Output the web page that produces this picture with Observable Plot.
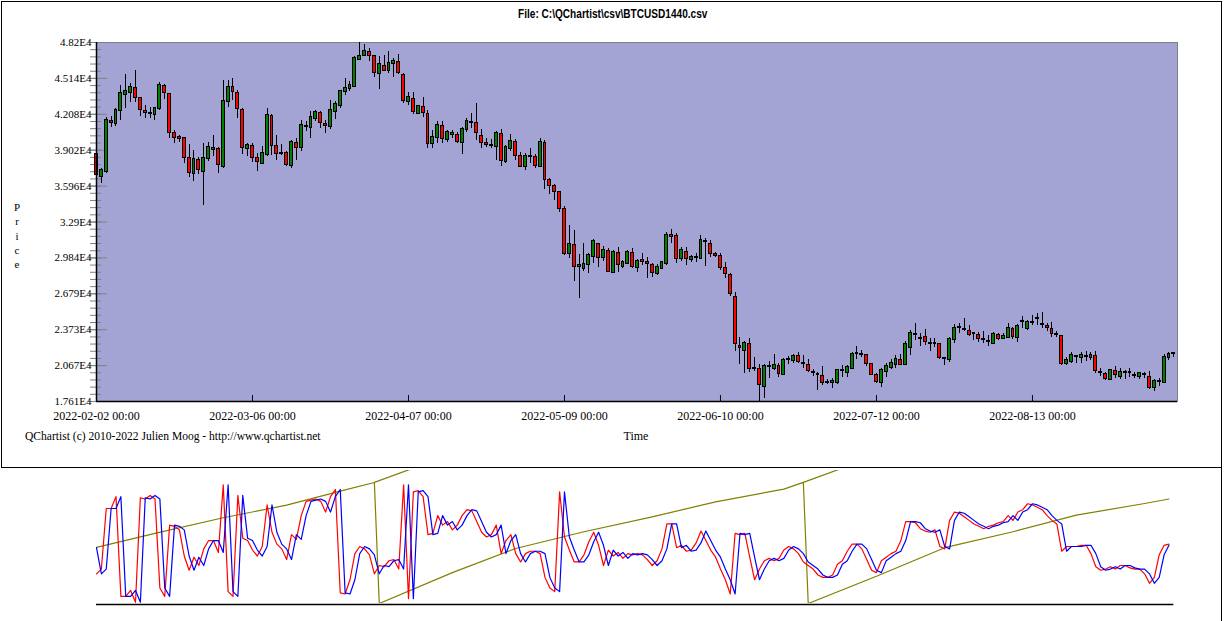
<!DOCTYPE html>
<html><head><meta charset="utf-8">
<script src="https://cdn.jsdelivr.net/npm/d3@7"></script>
<script src="https://cdn.jsdelivr.net/npm/@observablehq/plot@0.6"></script>
<style>
html,body{margin:0;padding:0;background:#fff;}
#page{position:relative;width:1225px;height:621px;overflow:hidden;background:#fff;}
#frame{position:absolute;left:1px;top:1px;width:1219px;height:465px;border:1px solid #000;pointer-events:none;}
#rline{position:absolute;left:1221px;top:467px;width:0;height:154px;border-left:1px solid #000;}
#main{position:absolute;left:0;top:0;}
#ind{position:absolute;left:0;top:470px;}
.t{position:absolute;font-family:"Liberation Serif","Times New Roman",serif;font-size:12px;color:#000;white-space:nowrap;line-height:14px;}
#titlewrap{position:absolute;left:0;width:1225px;top:4px;text-align:center;}
#title{position:relative;display:inline-block;font-family:"Liberation Sans",Arial,sans-serif;font-weight:bold;font-size:12px;line-height:14px;transform:scaleX(0.84);transform-origin:center;white-space:nowrap;}
#price{left:12px;top:200px;width:10px;text-align:center;font-size:11px;line-height:14.3px;}
#time{left:600px;width:72px;text-align:center;top:429px;}
#copy{left:25px;top:429px;font-size:11.55px;}
</style></head>
<body>
<div id="page">
  <div id="main"></div>
  <div id="ind"></div>
  <div id="frame"></div>
  <div id="rline"></div>
  <div id="titlewrap"><span id="title"></span></div>
  <div class="t" id="price"></div>
  <div class="t" id="time"></div>
  <div class="t" id="copy"></div>
</div>
<script>
// ---------------- data ----------------
const titleText = "File: C:\\QChartist\\csv\\BTCUSD1440.csv";
const yLabelText = "Price";
const xLabelText = "Time";
const copyText = "QChartist (c) 2010-2022 Julien Moog - http://www.qchartist.net";
const startDate = "2022-02-02";

const open = [38660,36810,37230,41470,41320,42410,43800,43970,44260,43400,42300,42160,42040,42550,44450,43740,40420,40110,39990,38290,37010,38120,37230,38290,39080,39060,37660,43150,44340,43830,42410,39140,39340,38320,37890,38660,41870,39310,38760,38740,37750,39570,39230,41020,40930,41720,42150,41180,41020,42350,42860,44000,44280,44480,46780,47120,47350,46980,45530,46130,45840,46390,46500,45360,43150,43340,42180,42640,42040,39570,40080,41020,39910,40400,40250,39650,40760,41400,41270,40220,39560,39430,39360,40340,38090,39190,39650,38490,37660,38480,38380,37660,39570,36420,35930,35390,33950,30200,30880,29080,28970,29260,29970,30960,29850,30390,28630,30200,29110,29390,30200,29050,29600,29420,29200,28540,28970,29390,31720,31670,29770,30310,29680,29910,29820,31260,30990,30110,29970,28920,28350,26450,22300,21960,22470,20420,20310,18910,20580,20450,20590,19910,21170,21100,21440,20890,20680,20120,19920,19740,19270,19260,19260,20240,20110,20450,21720,21620,21530,20760,19830,19260,20190,20530,20760,21080,20740,22240,23300,22990,23040,22580,22530,22440,21250,21190,22890,23900,23730,23550,23380,23210,22880,22750,22580,23230,22950,23090,23720,23090,24440,23860,24360,24680,24180,23980,23750,23340,23150,20820,21020,21480,21330,21450,21330,21440,20120,19910,19480,20170,19770,20100,20060,19830,19770,19900,19680,18780,19320,19260,21330,21670];
const high = [38850,37460,41840,41900,42600,44540,45470,44730,45810,43540,42830,42690,42690,44770,44600,43880,40700,40280,40130,39480,39000,38430,39570,39710,40280,39280,44960,44960,45110,44110,42550,39570,39570,38740,39310,42580,42070,40250,39510,38890,39880,40020,41580,41470,42300,42430,42300,41580,43280,43150,44140,45130,44900,46980,48200,48030,47690,47120,46980,47120,47410,46840,47180,45560,43940,43910,42830,43490,42410,40700,41470,41470,40700,40700,40560,40980,41700,42130,42980,40760,39990,39910,40620,40760,39420,40340,39910,38850,38720,39140,38630,39990,39850,36590,36100,35500,34230,32610,32180,30140,31050,30200,31410,31100,30820,30620,30480,30760,29620,30480,30670,29710,30200,29910,29390,29260,29540,31990,32270,31900,30710,30710,30050,30200,31760,31520,31330,30330,30250,29430,28490,26870,23090,22720,22950,21390,20740,20740,21020,21590,20820,21250,21440,21610,21760,21530,21160,20310,20110,20590,19460,19540,20310,20680,20680,21810,22300,21960,21610,20870,19990,20400,20820,21160,21530,21610,22720,23660,24230,23380,23720,22950,22950,22580,21300,23090,24170,24280,24660,24090,23520,23460,23600,23230,23460,23380,23380,24230,23890,24170,24850,24510,24940,25080,25220,24280,24370,23570,23230,21330,21760,21530,21810,21870,21760,21870,20400,20110,20310,20590,20400,20250,20400,20110,20020,20110,20170,19480,19540,21610,21760,21730];
const low = [36640,36210,37040,40980,41040,41550,42600,43110,43110,41900,41720,41700,41550,42410,43320,40050,39570,39650,37920,36720,36380,36950,34310,38060,38510,37010,37440,42690,43260,41750,38630,38490,38000,37180,37810,38460,38600,38170,38550,37610,37460,38170,38890,40620,40020,41440,40870,40450,40810,41670,42580,43670,44050,44340,46690,46980,46610,45190,44220,45760,45560,45190,45470,43000,42860,42090,42070,41840,39190,39190,39570,39570,39710,39990,39570,38630,40560,40850,39850,39140,39280,39140,38150,37660,37920,38910,38150,37520,37290,37860,37440,37570,35680,35220,34740,33740,30050,29770,27860,26400,28710,28540,29390,29050,29570,28630,28540,28630,28970,29260,28920,28630,29200,28070,28200,28350,28830,29200,31100,29390,29570,29200,29430,29480,29770,29110,29850,29910,28770,28070,26560,21900,20760,20020,20110,20190,17610,17890,19600,20250,19680,19830,20740,20870,20870,20450,20110,19770,18550,18970,19060,18740,19060,19680,19680,20400,21160,21330,20590,19830,19120,18830,19630,20310,20450,20680,20680,21530,22810,22320,22380,21900,22240,21160,20680,20960,22580,23430,23570,23150,22810,22660,22580,22320,22530,22810,22870,23040,22870,22660,23860,23660,24090,24090,23810,23600,23090,23090,20680,20680,20820,20820,20820,21020,21100,20020,19740,19400,19460,19540,19460,19480,19680,19540,19480,19540,18610,18490,18890,19170,21100,21390];
const close = [36950,37290,41550,41420,42410,43830,44030,44370,43540,42470,42260,42120,42550,44510,43910,40560,40080,39990,38430,37100,38210,37350,38290,39230,39130,37810,43150,44390,44030,42550,39230,39420,38430,38040,38740,41960,39450,38740,38720,37810,39650,39280,41100,41040,41780,42240,41360,41160,42380,42920,44050,44280,44510,46840,46980,47410,47120,45620,46330,45840,46410,46610,45620,43230,43490,42280,42750,42260,39570,40080,41100,39990,40510,40420,39760,40760,41440,41380,40560,39710,39530,39420,40420,38150,39230,39760,38570,37660,38490,38470,37720,39650,36530,36020,35530,34080,30250,30960,29110,29200,29260,30020,31240,29910,30480,28710,30280,29280,29430,30280,29140,29570,29560,29400,28630,29000,29430,31760,31700,29820,30480,29770,29910,29890,31330,31240,30250,30090,29050,28490,26790,22530,22240,22530,20450,20390,19030,20590,20570,20680,20020,21100,21160,21470,21020,20870,20250,20100,19900,19260,19250,19280,20250,20220,20530,21610,21730,21610,20870,19910,19310,20250,20590,20820,21160,20790,22440,23380,23290,23010,22750,22570,22520,21390,21240,22920,23810,23940,23720,23320,23370,23000,22870,22760,23290,23000,23150,23810,23170,24000,24420,24370,24370,24660,24170,23940,23380,23320,20870,21100,21530,21470,21530,21430,21530,20250,20100,19600,20250,19890,20110,20110,20050,19820,19970,19910,18830,19310,19340,21330,21590,21680];

const yTicks = [17610,20669,23728,26787,29846,32905,35964,39023,42082,45141,48200];
const yTickLabels = ["1.761E4","2.067E4","2.373E4","2.679E4","2.984E4","3.29E4","3.596E4","3.902E4","4.208E4","4.514E4","4.82E4"];
const xTickDays = ["2022-02-02","2022-03-06","2022-04-07","2022-05-09","2022-06-10","2022-07-12","2022-08-13"];
const xTickLabels = ["2022-02-02 00:00","2022-03-06 00:00","2022-04-07 00:00","2022-05-09 00:00","2022-06-10 00:00","2022-07-12 00:00","2022-08-13 00:00"];

// lower panel (oscillator, 0..100 scale of the panel)
const redLine = [25,29,80,80,90,6,6,11,1,89,88,91,88,13,6,66,65,62,40,28,39,32,46,53,53,43,100,10,6,91,55,53,45,40,48,83,60,50,46,37,58,54,74,86,87,88,86,77,90,96,9,8,20,42,48,46,41,25,32,31,36,37,29,100,4,94,95,90,58,59,74,66,69,62,66,74,79,78,69,60,56,58,66,42,53,58,42,35,42,44,44,42,22,13,10,94,56,45,35,35,41,52,60,49,32,45,40,43,38,42,41,42,41,37,32,36,46,67,67,47,49,44,45,51,61,53,45,39,29,20,8,59,58,59,39,20,29,36,38,36,38,45,48,46,42,35,32,29,24,22,22,24,33,36,44,50,50,46,37,28,26,36,39,42,44,53,69,69,68,63,61,60,62,48,46,70,77,76,73,70,67,65,63,65,66,68,69,74,70,77,79,84,83,81,79,74,70,67,44,48,48,48,49,49,42,31,28,29,31,29,32,32,30,29,29,25,17,22,41,49,50];
const blueLine = [47,25,29,80,80,90,6,6,11,1,89,88,91,88,13,6,66,65,62,40,28,39,32,46,53,53,43,100,10,6,91,55,53,45,40,48,83,60,50,46,37,58,54,74,86,87,88,86,77,90,96,9,8,20,42,48,46,41,25,32,31,36,37,29,100,4,94,95,90,58,59,74,66,69,62,66,74,79,78,69,60,56,58,66,42,53,58,42,35,42,44,44,42,22,13,10,94,56,45,35,35,41,52,60,49,32,45,40,43,38,42,41,42,41,37,32,36,46,67,67,47,49,44,45,51,61,53,45,39,29,20,8,59,58,59,39,20,29,36,38,36,38,45,48,46,42,35,32,29,24,22,22,24,33,36,44,50,50,46,37,28,26,36,39,42,44,53,69,69,68,63,61,60,62,48,46,70,77,76,73,70,67,65,63,65,66,68,69,74,70,77,79,84,83,81,79,74,70,67,44,48,48,48,49,49,42,31,28,29,31,29,32,32,30,29,29,25,17,22,41,49];
const oliveDays = [0,12,26,39,50,57,58,73,86,100,114,127,141,145,146,160,174,188,201,215,220];
const oliveVals = [47.2,59,72.2,82.8,94.6,101.9,0,26,46.3,60.4,73,85.6,96.3,102,0,23,47,60.4,74.4,84.2,88];
const olive2Days = [[57,64,70],[145,153,160]];
const olive2Vals = [[102,112.5,121.5],[102,114,124]];

// ---------------- build ----------------
const day0 = new Date(startDate + "T00:00:00Z");
const dayAt = i => d3.utcDay.offset(day0, i);
const candles = open.map((o, i) => ({date: dayAt(i), open: o, high: high[i], low: low[i], close: close[i]}));
const xDomain = [day0, d3.utcHour.offset(day0, Math.round(221.75 * 24))];
const bg = "#A4A4D4";
const minorTicks = d3.range(0, 51).map(k => yTicks[0] + k * (yTicks[10] - yTicks[0]) / 50);
const xTicks = xTickDays.map(s => new Date(s + "T00:00:00Z"));
const serif = "Liberation Serif, Times New Roman, serif";

const main = Plot.plot({
  width: 1225, height: 470,
  marginLeft: 96, marginRight: 48, marginTop: 42, marginBottom: 69,
  x: {type: "utc", domain: xDomain},
  y: {domain: [yTicks[0], yTicks[10]]},
  style: {background: "transparent", overflow: "visible"},
  marks: [
    Plot.frame({fill: bg, stroke: "#808080"}),
    Plot.axisY({ticks: minorTicks, tickSize: 11, dx: 5, text: null, stroke: "#808080", label: null}),
    Plot.axisY({ticks: yTicks, tickSize: 19, dx: 11, text: null, stroke: "#808080", label: null}),
    Plot.axisY({ticks: yTicks, tickSize: 0, tickPadding: 5, label: null,
      tickFormat: d => yTickLabels[yTicks.indexOf(d)], fontSize: 11, fontFamily: serif, fill: "#000"}),
    Plot.axisX({ticks: xTicks, tickSize: 6, dy: -6, text: null, stroke: "#000", label: null}),
    Plot.axisX({ticks: xTicks, tickSize: 0, tickPadding: 10, label: null,
      tickFormat: d => xTickLabels[xTicks.findIndex(t => +t === +d)], fontSize: 12, fontFamily: serif, fill: "#000"}),
    Plot.ruleX(candles, {x: "date", y1: "low", y2: "high", stroke: "#000", strokeWidth: 1, shapeRendering: "crispEdges"}),
    Plot.rect(candles, {
      x1: d => d3.utcHour.offset(d.date, -7), x2: d => d3.utcHour.offset(d.date, 7),
      y1: "open", y2: "close", insetTop: -0.5, insetBottom: -0.5,
      fill: d => d.close >= d.open ? "#008000" : "#FF0000", stroke: "#000", strokeWidth: 1, shapeRendering: "crispEdges"
    }),
    Plot.ruleX([day0], {stroke: "#000", strokeWidth: 1.5}),
    Plot.ruleY([yTicks[0]], {stroke: "#000", strokeWidth: 1.5})
  ]
});
document.getElementById("main").appendChild(main);

const ind = redLine.map((r, i) => ({date: dayAt(i), red: r, blue: blueLine[i]}));
const oliveA = oliveDays.map((d, i) => ({date: dayAt(d), v: oliveVals[i]}));
const oliveB = olive2Days.flatMap((ds, k) => ds.map((d, i) => ({date: dayAt(d), v: olive2Vals[k][i], seg: k})));

const lower = Plot.plot({
  width: 1225, height: 151,
  marginLeft: 96, marginRight: 48, marginTop: 0, marginBottom: 18,
  x: {type: "utc", domain: xDomain, axis: null},
  y: {domain: [0, 112], axis: null},
  style: {background: "transparent"},
  marks: [
    Plot.line(oliveA, {x: "date", y: "v", stroke: "#808000", strokeWidth: 1.2, clip: true}),
    Plot.line(oliveB, {x: "date", y: "v", z: "seg", stroke: "#808000", strokeWidth: 1.2, clip: true}),
    Plot.line(ind, {x: "date", y: "red", stroke: "#FF0000", strokeWidth: 1.2}),
    Plot.line(ind, {x: "date", y: "blue", stroke: "#0000FF", strokeWidth: 1.2}),
    Plot.ruleY([0], {x1: dayAt(0), x2: dayAt(221), stroke: "#000", strokeWidth: 1.5, dy: 1})
  ]
});
document.getElementById("ind").appendChild(lower);

document.getElementById("title").textContent = titleText;
document.getElementById("price").innerHTML = yLabelText.split("").join("<br>");
document.getElementById("time").textContent = xLabelText;
document.getElementById("copy").textContent = copyText;
</script>
</body></html>
